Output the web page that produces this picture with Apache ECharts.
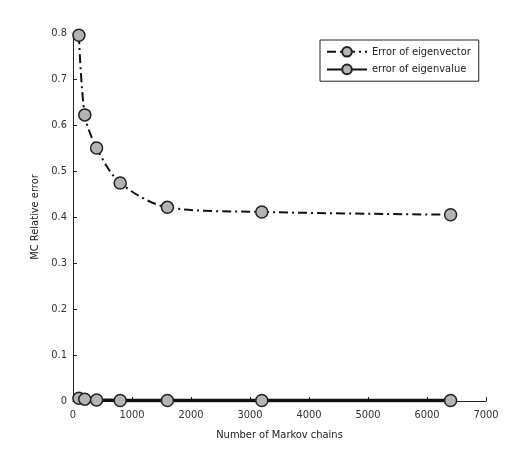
<!DOCTYPE html>
<html><head><meta charset="utf-8">
<script src="https://cdn.jsdelivr.net/npm/echarts@6/dist/echarts.min.js"></script>
<style>html,body{margin:0;padding:0;background:#fff}#c{width:523px;height:451px}</style>
</head><body><div id="c"></div>
<script>
const chains = [100, 200, 400, 800, 1600, 3200, 6400];
const eigvecErr = [0.795, 0.622, 0.550, 0.474, 0.421, 0.411, 0.405];
const eigvalErr = [0.006, 0.004, 0.002, 0.001, 0.001, 0.001, 0.001];
const seriesNames = ['Error of eigenvector', 'error of eigenvalue'];
const xTitle = 'Number of Markov chains';
const yTitle = 'MC Relative error';

const font = "'Liberation Sans Narrow','DejaVu Sans Condensed','Liberation Sans',Arial,sans-serif";
const chart = echarts.init(document.getElementById('c'));
const pair = (xs, ys) => xs.map((x, i) => [x, ys[i]]);
const markerStyle = { color: '#b4b4b4', borderColor: '#222', borderWidth: 1.5 };
chart.setOption({
  animation: false,
  backgroundColor: '#fff',
  grid: { left: 73, right: 37, top: 33, bottom: 50 },
  legend: {
    orient: 'vertical', left: 320, top: 40,
    borderColor: '#222', borderWidth: 1, padding: [6, 8, 6, 6],
    itemWidth: 40, itemHeight: 12, itemGap: 6,
    textStyle: { fontFamily: font, fontSize: 11, color: '#222' },
    data: seriesNames
  },
  xAxis: {
    type: 'value', min: 0, max: 7000, interval: 1000,
    name: xTitle, nameLocation: 'middle', nameGap: 29,
    nameTextStyle: { fontFamily: font, fontSize: 11, color: '#222' },
    axisLine: { lineStyle: { color: '#222', width: 1 } },
    axisTick: { inside: true, length: 4, lineStyle: { color: '#222' } },
    axisLabel: { fontFamily: font, fontSize: 11, color: '#333', margin: 9,
      formatter: v => String(v) },
    splitLine: { show: false }
  },
  yAxis: {
    type: 'value', min: 0, max: 0.8, interval: 0.1,
    name: yTitle, nameLocation: 'middle', nameGap: 25, nameRotate: 90,
    nameTextStyle: { fontFamily: font, fontSize: 11, color: '#222' },
    axisLine: { show: true, lineStyle: { color: '#222', width: 1 } },
    axisTick: { show: true, inside: true, length: 4, lineStyle: { color: '#222' } },
    axisLabel: { fontFamily: font, fontSize: 11, color: '#333', margin: 6,
      formatter: v => (Math.round(v * 10) / 10).toString() },
    splitLine: { show: false }
  },
  series: [
    {
      name: seriesNames[0], type: 'line', data: pair(chains, eigvecErr),
      symbol: 'circle', symbolSize: 12, smooth: 0.3,
      lineStyle: { color: '#111', width: 2, type: [9, 4, 2, 4] },
      itemStyle: markerStyle
    },
    {
      name: seriesNames[1], type: 'line', data: pair(chains, eigvalErr),
      symbol: 'circle', symbolSize: 12,
      lineStyle: { color: '#111', width: 3.5 },
      itemStyle: markerStyle
    }
  ]
});
</script></body></html>
